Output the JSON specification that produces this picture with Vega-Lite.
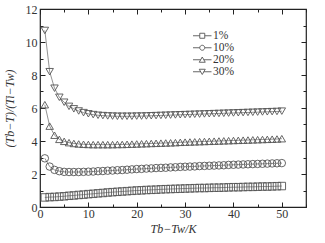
{
  "$schema": "https://vega.github.io/schema/vega-lite/v6.json",
  "width": 266,
  "height": 198,
  "autosize": {"type": "none"},
  "padding": {"left": 40, "top": 9, "right": 19, "bottom": 36},
  "background": "white",
  "config": {
    "view": {"stroke": "#222", "strokeWidth": 1.2},
    "font": "Liberation Serif",
    "axis": {"domain": false, "grid": false, "labelFont": "Liberation Serif", "labelFontSize": 12, "labelColor": "#333", "tickColor": "#222", "titleFont": "Liberation Serif", "titleFontWeight": "normal", "titleColor": "#333", "titleFontSize": 12, "titleFontStyle": "italic"}
  },
  "data": {"values": [
    {"x":1,"s":"1%","y":0.58},{"x":2,"s":"1%","y":0.6},{"x":3,"s":"1%","y":0.61},{"x":4,"s":"1%","y":0.63},{"x":5,"s":"1%","y":0.65},{"x":6,"s":"1%","y":0.68},{"x":7,"s":"1%","y":0.7},{"x":8,"s":"1%","y":0.73},{"x":9,"s":"1%","y":0.75},{"x":10,"s":"1%","y":0.78},
    {"x":11,"s":"1%","y":0.8},{"x":12,"s":"1%","y":0.83},{"x":13,"s":"1%","y":0.85},{"x":14,"s":"1%","y":0.88},{"x":15,"s":"1%","y":0.9},{"x":16,"s":"1%","y":0.92},{"x":17,"s":"1%","y":0.94},{"x":18,"s":"1%","y":0.96},{"x":19,"s":"1%","y":0.98},{"x":20,"s":"1%","y":1.0},
    {"x":21,"s":"1%","y":1.01},{"x":22,"s":"1%","y":1.03},{"x":23,"s":"1%","y":1.04},{"x":24,"s":"1%","y":1.05},{"x":25,"s":"1%","y":1.07},{"x":26,"s":"1%","y":1.08},{"x":27,"s":"1%","y":1.09},{"x":28,"s":"1%","y":1.1},{"x":29,"s":"1%","y":1.11},{"x":30,"s":"1%","y":1.12},
    {"x":31,"s":"1%","y":1.13},{"x":32,"s":"1%","y":1.14},{"x":33,"s":"1%","y":1.15},{"x":34,"s":"1%","y":1.15},{"x":35,"s":"1%","y":1.16},{"x":36,"s":"1%","y":1.17},{"x":37,"s":"1%","y":1.17},{"x":38,"s":"1%","y":1.18},{"x":39,"s":"1%","y":1.19},{"x":40,"s":"1%","y":1.2},
    {"x":41,"s":"1%","y":1.2},{"x":42,"s":"1%","y":1.21},{"x":43,"s":"1%","y":1.22},{"x":44,"s":"1%","y":1.22},{"x":45,"s":"1%","y":1.23},{"x":46,"s":"1%","y":1.24},{"x":47,"s":"1%","y":1.24},{"x":48,"s":"1%","y":1.25},{"x":49,"s":"1%","y":1.26},{"x":50,"s":"1%","y":1.27},
    {"x":1,"s":"10%","y":2.95},{"x":2,"s":"10%","y":2.45},{"x":3,"s":"10%","y":2.25},{"x":4,"s":"10%","y":2.17},{"x":5,"s":"10%","y":2.13},{"x":6,"s":"10%","y":2.12},{"x":7,"s":"10%","y":2.12},{"x":8,"s":"10%","y":2.12},{"x":9,"s":"10%","y":2.13},{"x":10,"s":"10%","y":2.14},
    {"x":11,"s":"10%","y":2.15},{"x":12,"s":"10%","y":2.17},{"x":13,"s":"10%","y":2.18},{"x":14,"s":"10%","y":2.2},{"x":15,"s":"10%","y":2.21},{"x":16,"s":"10%","y":2.23},{"x":17,"s":"10%","y":2.24},{"x":18,"s":"10%","y":2.26},{"x":19,"s":"10%","y":2.28},{"x":20,"s":"10%","y":2.3},
    {"x":21,"s":"10%","y":2.31},{"x":22,"s":"10%","y":2.33},{"x":23,"s":"10%","y":2.34},{"x":24,"s":"10%","y":2.36},{"x":25,"s":"10%","y":2.37},{"x":26,"s":"10%","y":2.38},{"x":27,"s":"10%","y":2.4},{"x":28,"s":"10%","y":2.41},{"x":29,"s":"10%","y":2.43},{"x":30,"s":"10%","y":2.44},
    {"x":31,"s":"10%","y":2.45},{"x":32,"s":"10%","y":2.46},{"x":33,"s":"10%","y":2.48},{"x":34,"s":"10%","y":2.49},{"x":35,"s":"10%","y":2.5},{"x":36,"s":"10%","y":2.51},{"x":37,"s":"10%","y":2.52},{"x":38,"s":"10%","y":2.53},{"x":39,"s":"10%","y":2.55},{"x":40,"s":"10%","y":2.56},
    {"x":41,"s":"10%","y":2.57},{"x":42,"s":"10%","y":2.58},{"x":43,"s":"10%","y":2.59},{"x":44,"s":"10%","y":2.6},{"x":45,"s":"10%","y":2.61},{"x":46,"s":"10%","y":2.62},{"x":47,"s":"10%","y":2.63},{"x":48,"s":"10%","y":2.64},{"x":49,"s":"10%","y":2.65},{"x":50,"s":"10%","y":2.66},
    {"x":1,"s":"20%","y":6.2},{"x":2,"s":"20%","y":4.9},{"x":3,"s":"20%","y":4.35},{"x":4,"s":"20%","y":4.1},{"x":5,"s":"20%","y":3.98},{"x":6,"s":"20%","y":3.9},{"x":7,"s":"20%","y":3.85},{"x":8,"s":"20%","y":3.82},{"x":9,"s":"20%","y":3.8},{"x":10,"s":"20%","y":3.79},
    {"x":11,"s":"20%","y":3.78},{"x":12,"s":"20%","y":3.78},{"x":13,"s":"20%","y":3.78},{"x":14,"s":"20%","y":3.78},{"x":15,"s":"20%","y":3.78},{"x":16,"s":"20%","y":3.79},{"x":17,"s":"20%","y":3.79},{"x":18,"s":"20%","y":3.8},{"x":19,"s":"20%","y":3.81},{"x":20,"s":"20%","y":3.82},
    {"x":21,"s":"20%","y":3.83},{"x":22,"s":"20%","y":3.84},{"x":23,"s":"20%","y":3.85},{"x":24,"s":"20%","y":3.86},{"x":25,"s":"20%","y":3.87},{"x":26,"s":"20%","y":3.88},{"x":27,"s":"20%","y":3.89},{"x":28,"s":"20%","y":3.9},{"x":29,"s":"20%","y":3.92},{"x":30,"s":"20%","y":3.93},
    {"x":31,"s":"20%","y":3.94},{"x":32,"s":"20%","y":3.95},{"x":33,"s":"20%","y":3.96},{"x":34,"s":"20%","y":3.97},{"x":35,"s":"20%","y":3.98},{"x":36,"s":"20%","y":3.99},{"x":37,"s":"20%","y":4.0},{"x":38,"s":"20%","y":4.01},{"x":39,"s":"20%","y":4.02},{"x":40,"s":"20%","y":4.03},
    {"x":41,"s":"20%","y":4.04},{"x":42,"s":"20%","y":4.05},{"x":43,"s":"20%","y":4.06},{"x":44,"s":"20%","y":4.07},{"x":45,"s":"20%","y":4.08},{"x":46,"s":"20%","y":4.09},{"x":47,"s":"20%","y":4.1},{"x":48,"s":"20%","y":4.11},{"x":49,"s":"20%","y":4.12},{"x":50,"s":"20%","y":4.14},
    {"x":1,"s":"30%","y":10.7},{"x":2,"s":"30%","y":8.2},{"x":3,"s":"30%","y":7.2},{"x":4,"s":"30%","y":6.65},{"x":5,"s":"30%","y":6.35},{"x":6,"s":"30%","y":6.1},{"x":7,"s":"30%","y":5.95},{"x":8,"s":"30%","y":5.82},{"x":9,"s":"30%","y":5.72},{"x":10,"s":"30%","y":5.65},
    {"x":11,"s":"30%","y":5.6},{"x":12,"s":"30%","y":5.56},{"x":13,"s":"30%","y":5.54},{"x":14,"s":"30%","y":5.52},{"x":15,"s":"30%","y":5.51},{"x":16,"s":"30%","y":5.5},{"x":17,"s":"30%","y":5.5},{"x":18,"s":"30%","y":5.5},{"x":19,"s":"30%","y":5.5},{"x":20,"s":"30%","y":5.51},
    {"x":21,"s":"30%","y":5.51},{"x":22,"s":"30%","y":5.52},{"x":23,"s":"30%","y":5.53},{"x":24,"s":"30%","y":5.54},{"x":25,"s":"30%","y":5.55},{"x":26,"s":"30%","y":5.56},{"x":27,"s":"30%","y":5.57},{"x":28,"s":"30%","y":5.58},{"x":29,"s":"30%","y":5.59},{"x":30,"s":"30%","y":5.6},
    {"x":31,"s":"30%","y":5.61},{"x":32,"s":"30%","y":5.62},{"x":33,"s":"30%","y":5.63},{"x":34,"s":"30%","y":5.64},{"x":35,"s":"30%","y":5.65},{"x":36,"s":"30%","y":5.66},{"x":37,"s":"30%","y":5.67},{"x":38,"s":"30%","y":5.68},{"x":39,"s":"30%","y":5.69},{"x":40,"s":"30%","y":5.7},
    {"x":41,"s":"30%","y":5.71},{"x":42,"s":"30%","y":5.72},{"x":43,"s":"30%","y":5.73},{"x":44,"s":"30%","y":5.74},{"x":45,"s":"30%","y":5.75},{"x":46,"s":"30%","y":5.76},{"x":47,"s":"30%","y":5.77},{"x":48,"s":"30%","y":5.78},{"x":49,"s":"30%","y":5.79},{"x":50,"s":"30%","y":5.81}
  ]},
  "layer": [
    {
      "encoding": {
        "x": {"field": "x", "type": "quantitative", "scale": {"domain": [0, 55], "nice": false},
          "axis": {"orient": "bottom", "title": "Tb−Tw/K", "values": [0,5,10,15,20,25,30,35,40,45,50,55], "labelExpr": "datum.value % 10 === 0 ? datum.label : ''", "tickSize": {"condition": {"test": "datum.value % 10 === 0", "value": -5}, "value": -3}, "labelPadding": 6, "titlePadding": 4, "labelFlush": false}},
        "y": {"field": "y", "type": "quantitative", "scale": {"domain": [0, 12], "nice": false},
          "axis": {"orient": "left", "title": "(Tb−T)/(Ti−Tw)", "values": [0,1,2,3,4,5,6,7,8,9,10,11,12], "labelExpr": "datum.value % 2 === 0 ? datum.label : ''", "tickSize": {"condition": {"test": "datum.value % 2 === 0", "value": -5}, "value": -3}, "labelPadding": 8, "titlePadding": 9, "labelFlush": false}}
      },
      "layer": [
        {"mark": {"type": "line", "stroke": "#777", "strokeWidth": 0.8}, "encoding": {"detail": {"field": "s"}}},
        {"mark": {"type": "point", "filled": false, "stroke": "#555", "strokeWidth": 0.9, "size": 56, "opacity": 1},
          "encoding": {"shape": {"field": "s", "type": "nominal", "scale": {"domain": ["1%","10%","20%","30%"], "range": ["square","circle","triangle-up","triangle-down"]}, "legend": null}}}
      ]
    },
    {
      "mark": {"type": "point", "opacity": 0, "filled": false},
      "encoding": {
        "x": {"field": "x", "type": "quantitative", "axis": null},
        "y": {"field": "y", "type": "quantitative", "axis": null},
        "shape": {"field": "s", "type": "nominal", "scale": {"domain": ["1%","10%","20%","30%"], "range": ["M-3.7,0H-1M1,0H3.7M-1,-1H1V1H-1Z", "M-3.7,0H-1M1,0H3.7M-1,0A1,1,0,1,1,1,0A1,1,0,1,1,-1,0Z", "M-3.7,0H-0.6M0.6,0H3.7M0,-1.1L1.2,1H-1.2Z", "M-3.7,0H-0.6M0.6,0H3.7M0,1.1L1.2,-1H-1.2Z"]},
          "legend": {"orient": "none", "legendX": 156.5, "legendY": 21, "title": null, "symbolSize": 25, "symbolOpacity": 1, "symbolStrokeColor": "#555", "symbolStrokeWidth": 0.9, "symbolFillColor": "transparent", "labelOffset": 5, "labelFontSize": 11.5, "labelColor": "#333", "rowPadding": -2.5, "padding": 0}}
      }
    },
    {
      "mark": {"type": "point", "opacity": 0},
      "encoding": {
        "x": {"field": "x", "type": "quantitative", "axis": {"orient": "top", "title": null, "values": [0,5,10,15,20,25,30,35,40,45,50,55], "labels": false, "tickSize": {"condition": {"test": "datum.value % 10 === 0", "value": -5}, "value": -3}}},
        "y": {"field": "y", "type": "quantitative", "axis": {"orient": "right", "title": null, "values": [0,1,2,3,4,5,6,7,8,9,10,11,12], "labels": false, "tickSize": {"condition": {"test": "datum.value % 2 === 0", "value": -5}, "value": -3}}}
      }
    }
  ],
  "resolve": {"axis": {"x": "independent", "y": "independent"}, "scale": {"shape": "independent"}}
}
